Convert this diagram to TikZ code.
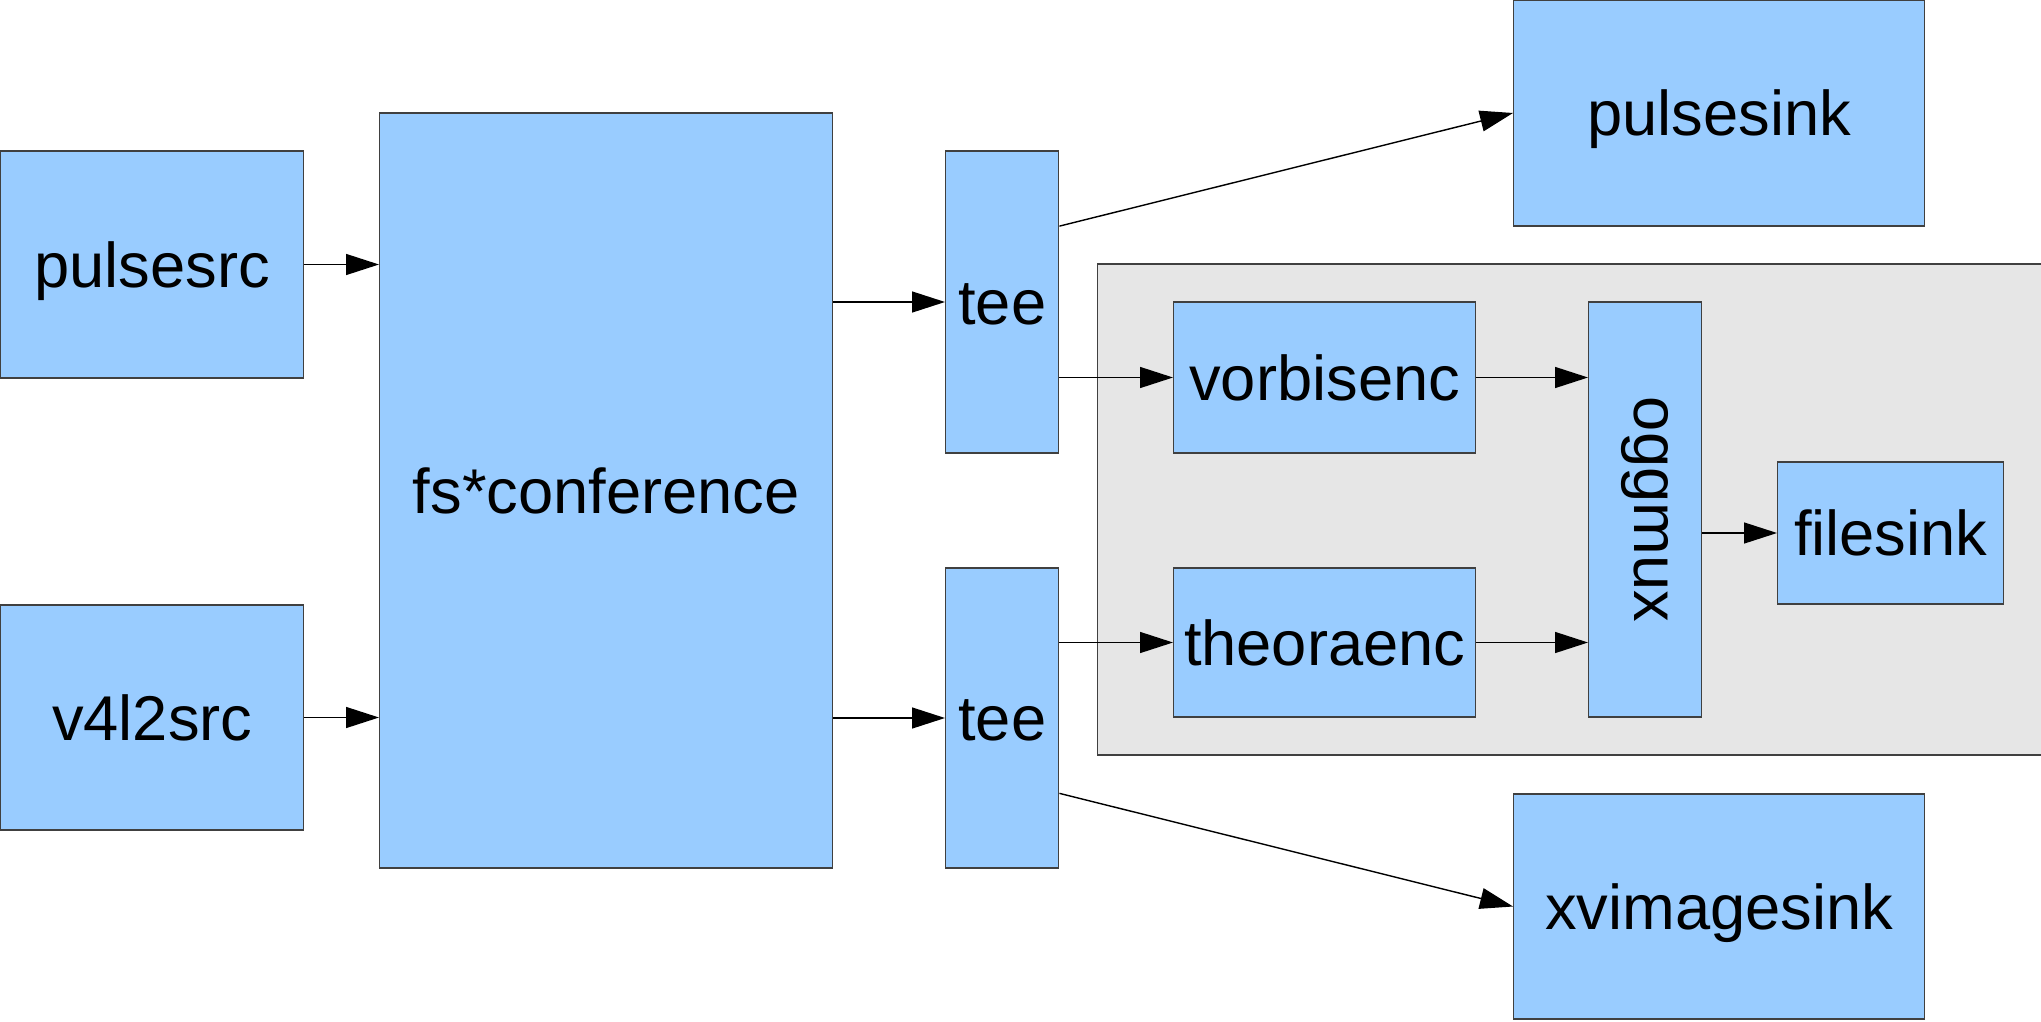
\documentclass[tikz,border=0pt]{standalone}
\usepackage{fontspec}
\setmainfont{Liberation Sans}
\usetikzlibrary{calc,arrows.meta}

\definecolor{elemblue}{HTML}{99CCFF}
\definecolor{bingray}{HTML}{E6E6E6}

\tikzset{
  elem/.style={draw=black!75, fill=elemblue, inner sep=0pt, align=center, right, text height=16.5pt, text depth=3.6pt, font=\fontsize{18}{21.6}\selectfont},
  link/.style={-{Triangle[length=0.33cm, width=0.21cm]}, line width=0.4pt}
}

\begin{document}
\begin{tikzpicture}

\useasboundingbox (0, 0) rectangle (20.41, -10.22);

\node[draw=black!75, fill=bingray, minimum width=9.6cm, minimum height=4.91cm, right] (0) at (10.97, -5.095) {};

\node[elem, minimum width=3.03cm, minimum height=2.27cm] (1) at (0, -2.645) {pulsesrc};
\node[elem, minimum width=3.03cm, minimum height=2.25cm] (2) at (0, -7.175) {v4l2src};
\node[elem, minimum width=4.53cm, minimum height=7.55cm] (3) at (3.79, -4.905) {fs*conference};
\node[elem, minimum width=1.13cm, minimum height=3.02cm] (4) at (9.45, -3.02) {tee};
\node[elem, minimum width=1.13cm, minimum height=3.00cm] (5) at (9.45, -7.18) {tee};
\node[elem, minimum width=4.11cm, minimum height=2.26cm] (6) at (15.13, -1.13) {pulsesink};
\node[elem, minimum width=4.11cm, minimum height=2.25cm] (7) at (15.13, -9.065) {xvimagesink};
\node[elem, minimum width=3.02cm, minimum height=1.51cm] (8) at (11.73, -3.775) {vorbisenc};
\node[elem, minimum width=3.02cm, minimum height=1.49cm] (9) at (11.73, -6.425) {theoraenc};
\node[elem, text height=, text depth=, minimum width=1.13cm, minimum height=4.15cm] (10) at (15.88, -5.095) {\rotatebox{-90}{oggmux}};
\node[elem, minimum width=2.26cm, minimum height=1.42cm] (11) at (17.77, -5.33) {filesink};

\draw[link] (1.east) -- (1.east -| 3.west);
\draw[link] (2.east) -- (2.east -| 3.west);

\draw[link] (4.west -| 3.east) -- (4.west);
\draw[link] (5.west -| 3.east) -- (5.west);

\draw[link] ($(4.north east)!0.25!(4.south east)$) -- (6.west);
\draw[link] (8.west -| 4.east) -- (8.west);
\draw[link] (9.west -| 5.east) -- (9.west);
\draw[link] ($(5.north east)!0.75!(5.south east)$) -- (7.west);

\draw[link] (8.east) -- (8.east -| 10.west);
\draw[link] (9.east) -- (9.east -| 10.west);
\draw[link] (10.east |- 11.west) -- (11.west);

\end{tikzpicture}
\end{document}
